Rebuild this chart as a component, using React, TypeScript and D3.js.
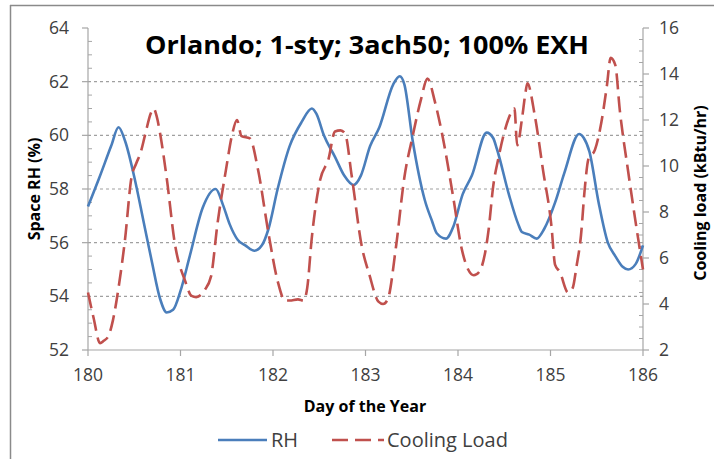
import React from "react";
import * as d3 from "d3";

const TITLE = "Orlando; 1-sty; 3ach50; 100% EXH";
const X_TICKS = [180, 181, 182, 183, 184, 185, 186];
const LEFT_TICKS = [52, 54, 56, 58, 60, 62, 64];
const RIGHT_TICKS = [2, 4, 6, 8, 10, 12, 14, 16];
const GRID_VALUES = [54, 56, 58, 60, 62];

const rhDays = [
  180.0, 180.12, 180.25, 180.33, 180.4, 180.51, 180.6, 180.69, 180.78, 180.85, 180.92,
  181.0, 181.1, 181.24, 181.38, 181.46, 181.53, 181.62, 181.7, 181.8, 181.88, 181.95,
  182.05, 182.18, 182.31, 182.42, 182.47, 182.55, 182.67, 182.77, 182.87, 182.95,
  183.05, 183.15, 183.3, 183.37, 183.42, 183.51, 183.64, 183.72, 183.77, 183.87, 183.95,
  184.05, 184.15, 184.31, 184.38, 184.42, 184.55, 184.65, 184.69, 184.77, 184.85, 184.93,
  185.05, 185.15, 185.31, 185.36, 185.42, 185.52, 185.62, 185.7, 185.78, 185.84, 185.92, 186.0,
];
const rhValues = [
  57.35, 58.4, 59.6, 60.3, 59.8, 58.3, 56.8, 55.3, 53.9, 53.4, 53.5,
  54.2, 55.5, 57.3, 58.0, 57.4, 56.7, 56.1, 55.9, 55.7, 55.9, 56.5,
  58.0, 59.6, 60.5, 61.0, 60.8, 60.0, 59.2, 58.5, 58.15, 58.5,
  59.6, 60.3, 61.9, 62.2, 61.9, 59.8, 57.6, 56.8, 56.35, 56.15, 56.6,
  57.8, 58.5, 60.1, 59.9, 59.5, 57.8, 56.7, 56.4, 56.3, 56.15, 56.5,
  57.5, 58.6, 60.05, 59.9, 59.4, 57.5, 56.0, 55.5, 55.1, 55.0, 55.2, 55.9,
];

const clDays = [
  180.0, 180.06, 180.13, 180.17, 180.22, 180.27, 180.33, 180.4, 180.47, 180.52, 180.57,
  180.62, 180.68, 180.71, 180.74, 180.78, 180.85, 180.94, 181.05, 181.12, 181.17, 181.26,
  181.33, 181.4, 181.49, 181.56, 181.61, 181.66, 181.75, 181.84, 181.95, 182.05, 182.13,
  182.18, 182.27, 182.33, 182.37, 182.42, 182.51, 182.6, 182.67, 182.73, 182.78, 182.85,
  182.96, 183.04, 183.14, 183.19, 183.24, 183.33, 183.42, 183.51, 183.6, 183.67, 183.75,
  183.84, 183.95, 184.04, 184.11, 184.17, 184.23, 184.33, 184.38, 184.44, 184.49, 184.55,
  184.61, 184.64, 184.69, 184.73, 184.75, 184.83, 184.92, 185.01, 185.05, 185.1, 185.19,
  185.24, 185.28, 185.33, 185.37, 185.41, 185.48, 185.55, 185.61, 185.65, 185.7, 185.75,
  185.84, 185.93, 186.0,
];
const clValues = [
  4.5, 3.4, 2.3, 2.4, 2.6, 3.3, 4.7, 6.8, 9.5, 10.1, 10.6,
  11.4, 12.3, 12.5, 12.2, 11.4, 9.5, 6.6, 5.0, 4.35, 4.3, 4.6,
  5.2, 7.5, 9.8, 11.4, 12.0, 11.3, 11.2, 9.8, 7.1, 5.0, 4.15,
  4.15, 4.2, 4.15, 4.7, 6.9, 9.4, 10.3, 11.5, 11.55, 11.4, 9.6,
  6.5, 5.3, 4.1, 4.0, 4.2, 6.5, 9.5, 11.3, 12.9, 13.8, 12.8,
  11.15, 8.6, 6.4, 5.5, 5.25, 5.4, 7.2, 9.1, 10.4, 11.3, 12.1,
  12.5, 10.9, 12.0, 13.2, 13.6, 12.2, 9.8, 7.4, 5.7, 5.4, 4.5,
  4.7, 5.6, 7.0, 9.0, 10.3, 10.7, 11.9, 13.5, 14.7, 14.4, 12.4,
  9.75, 7.3, 5.5,
];

const W = 714;
const H = 459;
const LEFT = 88;
const RIGHT = 643;
const TOP = 28;
const BOTTOM = 350;

const BLUE = "#4a7ebb";
const RED = "#c0504d";
const AXIS = "#a6a6a6";
const LABEL = "#404040";
const FONT = "'Open Sans', 'Liberation Sans', sans-serif";

export default function App() {
  const x = d3.scaleLinear().domain([180, 186]).range([LEFT, RIGHT]);
  const yL = d3.scaleLinear().domain([52, 64]).range([BOTTOM, TOP]);
  const yR = d3.scaleLinear().domain([2, 16]).range([BOTTOM, TOP]);

  const rh = rhDays.map((d, i) => [d, rhValues[i]] as [number, number]);
  const cl = clDays.map((d, i) => [d, clValues[i]] as [number, number]);

  const rhLine = d3
    .line<[number, number]>()
    .x((d) => x(d[0]))
    .y((d) => yL(d[1]))
    .curve(d3.curveMonotoneX);
  const clLine = d3
    .line<[number, number]>()
    .x((d) => x(d[0]))
    .y((d) => yR(d[1]))
    .curve(d3.curveMonotoneX);

  const leftMinor = d3.range(52, 64.01, 0.5).filter((v) => Math.abs(v % 2) > 0.01);
  const rightMinor = d3.range(2, 16.01, 0.5).filter((v) => Math.abs(v % 2) > 0.01);

  return (
    <svg
      width={W}
      height={H}
      style={{ position: "absolute", left: 0, top: 0, background: "#fff" }}
      fontFamily={FONT}
    >
      <rect x={0} y={0} width={W} height={H} fill="#fff" />
      {/* outer frame */}
      <line x1={10} y1={5.5} x2={W} y2={5.5} stroke="#8a8a8a" strokeWidth={1.5} />
      <line x1={10.5} y1={5} x2={10.5} y2={H} stroke="#8a8a8a" strokeWidth={1.5} />

      {/* gridlines */}
      {GRID_VALUES.map((v) => (
        <line
          key={"g" + v}
          x1={LEFT}
          x2={RIGHT}
          y1={yL(v)}
          y2={yL(v)}
          stroke="#a0a0a0"
          strokeWidth={1.2}
          strokeDasharray="3,3"
        />
      ))}

      {/* axes lines */}
      <line x1={LEFT} x2={LEFT} y1={TOP} y2={BOTTOM} stroke={AXIS} strokeWidth={1.2} />
      <line x1={RIGHT} x2={RIGHT} y1={TOP} y2={BOTTOM} stroke={AXIS} strokeWidth={1.2} />
      <line x1={LEFT} x2={RIGHT} y1={BOTTOM} y2={BOTTOM} stroke={AXIS} strokeWidth={1.2} />

      {/* left ticks */}
      {LEFT_TICKS.map((v) => (
        <g key={"lt" + v}>
          <line x1={LEFT - 6} x2={LEFT} y1={yL(v)} y2={yL(v)} stroke={AXIS} strokeWidth={1.2} />
          <text
            x={LEFT - 19}
            y={yL(v)}
            dy="0.35em"
            textAnchor="end"
            fontSize={17.5}
            fill={LABEL}
          >
            {v}
          </text>
        </g>
      ))}
      {leftMinor.map((v) => (
        <line key={"lm" + v} x1={LEFT} x2={LEFT + 4} y1={yL(v)} y2={yL(v)} stroke={AXIS} strokeWidth={1} />
      ))}

      {/* right ticks */}
      {RIGHT_TICKS.map((v) => (
        <g key={"rt" + v}>
          <line x1={RIGHT} x2={RIGHT + 6} y1={yR(v)} y2={yR(v)} stroke={AXIS} strokeWidth={1.2} />
          <text x={RIGHT + 16} y={yR(v)} dy="0.35em" textAnchor="start" fontSize={17.5} fill={LABEL}>
            {v}
          </text>
        </g>
      ))}
      {rightMinor.map((v) => (
        <line key={"rm" + v} x1={RIGHT - 4} x2={RIGHT} y1={yR(v)} y2={yR(v)} stroke={AXIS} strokeWidth={1} />
      ))}

      {/* x ticks */}
      {X_TICKS.map((v) => (
        <g key={"xt" + v}>
          <line x1={x(v)} x2={x(v)} y1={BOTTOM} y2={BOTTOM + 6} stroke={AXIS} strokeWidth={1.2} />
          <text x={x(v)} y={381} textAnchor="middle" fontSize={17.5} fill={LABEL}>
            {v}
          </text>
        </g>
      ))}

      {/* series */}
      <path d={rhLine(rh) || ""} fill="none" stroke={BLUE} strokeWidth={2.6} strokeLinejoin="round" />
      <path
        d={clLine(cl) || ""}
        fill="none"
        stroke={RED}
        strokeWidth={2.6}
        strokeDasharray="16,7"
      />

      {/* title */}
      <text
        x={367}
        y={54}
        textAnchor="middle"
        fontSize={25}
        fontWeight="bold"
        fill="#000"
        textLength={444}
        lengthAdjust="spacingAndGlyphs"
      >
        {TITLE}
      </text>

      {/* axis titles */}
      <text
        transform={`translate(40, ${(TOP + BOTTOM) / 2}) rotate(-90)`}
        textAnchor="middle"
        fontSize={16}
        fontWeight="bold"
        fill="#000"
      >
        Space RH (%)
      </text>
      <text
        transform={`translate(706, ${(TOP + BOTTOM) / 2 + 4}) rotate(-90)`}
        textAnchor="middle"
        fontSize={16}
        fontWeight="bold"
        fill="#000"
      >
        Cooling load (kBtu/hr)
      </text>
      <text x={365} y={412} textAnchor="middle" fontSize={16} fontWeight="bold" fill="#000">
        Day of the Year
      </text>

      {/* legend */}
      <line x1={218} x2={267} y1={440} y2={440} stroke={BLUE} strokeWidth={2.6} />
      <text x={271} y={440} dy="0.35em" fontSize={20} fill={LABEL}>
        RH
      </text>
      <line x1={332} x2={384} y1={440} y2={440} stroke={RED} strokeWidth={2.6} strokeDasharray="16,7" />
      <text x={387} y={440} dy="0.35em" fontSize={20} fill={LABEL}>
        Cooling Load
      </text>
    </svg>
  );
}
